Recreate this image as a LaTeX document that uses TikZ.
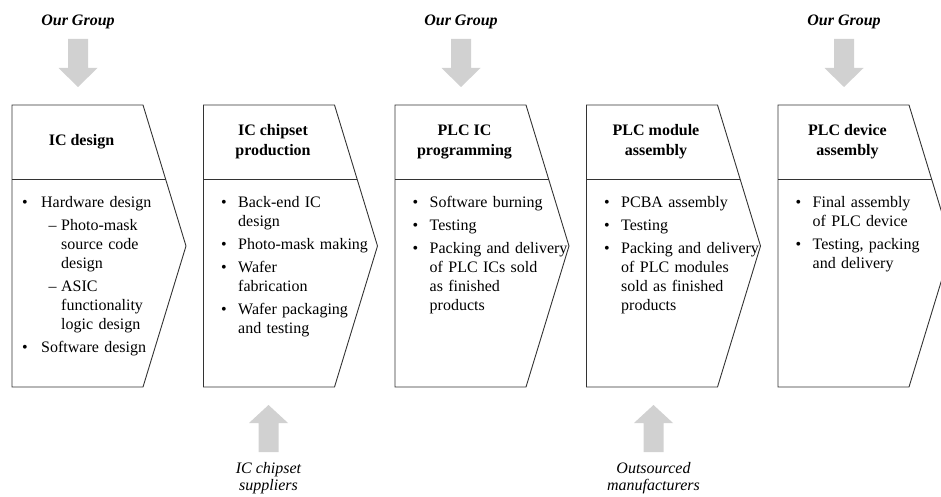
\documentclass[tikz,border=0pt]{standalone}
\usepackage{fontspec}
\setmainfont{Liberation Serif}
\newdimen\bcol
\newdimen\dcol
\newdimen\dskip
\newcommand\bitem[1]{\noindent\hangindent=\bcol\hangafter=1\hbox to \bcol{\textbullet\hfil}#1\par}
\newcommand\ditem[1]{\noindent\hangindent=\dcol\hangafter=1\hbox to \dcol{\hskip\dskip–\hfil}#1\par}
\newcommand\isep{\vspace{4pt}}
\tikzset{
  boxline/.style={draw=black!80, line width=0.9pt},
  grayarrow/.style={fill=black!18, draw=none},
  boxtitle/.style={font=\fontsize{16}{20}\selectfont\bfseries, align=center, inner sep=0pt, anchor=center},
  boxbody/.style={font=\fontsize{16}{19}\selectfont, text width=165pt, inner sep=0pt, anchor=north west},
  srclabel/.style={font=\fontsize{16}{17.5}\selectfont\itshape, align=center, inner sep=0pt, anchor=north},
  grplabel/.style={font=\fontsize{16}{18}\selectfont\bfseries\itshape, inner sep=0pt, anchor=base}
}
\newcommand\procbox[2]{%
  \draw[boxline] (#2,105) coordinate (#1-nw) -- (#2+131,105) -- (#2+174,246) coordinate (#1-tip) -- (#2+131,387) -- (#2,387) coordinate (#1-sw) -- cycle;
  \draw[boxline] (#2,179) -- (#2+153.6,179);
}
\newcommand\grpdownarrow[2]{% name, center x
  \fill[grayarrow] (#2-10,39) -- (#2+10,39) -- (#2+10,68) -- (#2+19.5,68) -- (#2,87) coordinate (#1) -- (#2-19.5,68) -- (#2-10,68) -- cycle;
}
\newcommand\supuparrow[2]{% name, center x
  \fill[grayarrow] (#2-10,452) -- (#2+10,452) -- (#2+10,423) -- (#2+19.5,423) -- (#2,405) coordinate (#1) -- (#2-19.5,423) -- (#2-10,423) -- cycle;
}
\begin{document}
\begin{tikzpicture}[x=1pt,y=-1pt]
\clip (0,0) rectangle (941,497);

% boxes
\procbox{b1}{12}
\procbox{b2}{203.5}
\procbox{b3}{395}
\procbox{b4}{586.5}
\procbox{b5}{778}

% titles
\node[boxtitle] (t1) at (12+69.5,142) {IC design};
\node[boxtitle] (t2) at (203.5+69.5,142) {IC chipset\\production};
\node[boxtitle] (t3) at (395+69.5,142) {PLC IC\\programming};
\node[boxtitle] (t4) at (586.5+69.5,142) {PLC module\\assembly};
\node[boxtitle] (t5) at (778+69.5,142) {PLC device\\assembly};

% bodies
\node[boxbody] (c1) at (12+10,196) {\bcol=19pt\dcol=39pt\dskip=26.5pt
  \bitem{Hardware design}\isep
  \ditem{Photo-mask\newline source code\newline design}\isep
  \ditem{ASIC\newline functionality\newline logic design}\isep
  \bitem{Software design}};
\node[boxbody] (c2) at (203.5+17.5,196) {\bcol=17pt
  \bitem{Back-end IC\newline design}\isep
  \bitem{Photo-mask making}\isep
  \bitem{Wafer\newline fabrication}\isep
  \bitem{Wafer packaging\newline and testing}};
\node[boxbody] (c3) at (395+17.5,196) {\bcol=17pt
  \bitem{Software burning}\isep
  \bitem{Testing}\isep
  \bitem{Packing and delivery\newline of PLC ICs sold\newline as finished\newline products}};
\node[boxbody] (c4) at (586.5+17.5,196) {\bcol=17pt
  \bitem{PCBA assembly}\isep
  \bitem{Testing}\isep
  \bitem{Packing and delivery\newline of PLC modules\newline sold as finished\newline products}};
\node[boxbody] (c5) at (778+17.5,196) {\bcol=17pt
  \bitem{Final assembly\newline of PLC device}\isep
  \bitem{Testing, packing\newline and delivery}};

% our group labels and arrows
\node[grplabel] (g1) at (12+66,26) {Our Group};
\node[grplabel] (g3) at (395+66,26) {Our Group};
\node[grplabel] (g5) at (778+66,26) {Our Group};
\grpdownarrow{a1}{12+66}
\grpdownarrow{a3}{395+66}
\grpdownarrow{a5}{778+66}

% suppliers
\supuparrow{u2}{203.5+65}
\supuparrow{u4}{586.5+67}
\node[srclabel] (s2) at (203.5+65,462) {IC chipset\\suppliers};
\node[srclabel] (s4) at (586.5+67,462) {Outsourced\\manufacturers};
\end{tikzpicture}
\end{document}
